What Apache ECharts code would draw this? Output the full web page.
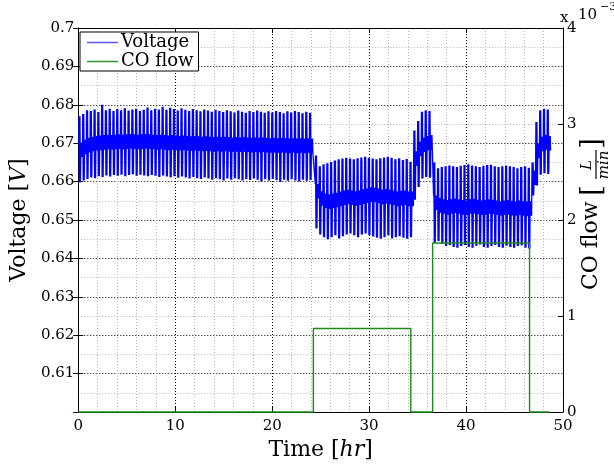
<!DOCTYPE html>
<html>
<head>
<meta charset="utf-8">
<script src="https://cdn.jsdelivr.net/npm/echarts@6/dist/echarts.min.js"></script>
<style>
  html, body { margin: 0; padding: 0; background: #ffffff; }
  #chart { width: 614px; height: 466px; }
</style>
</head>
<body>
<div id="chart"></div>
<script>
// Cell voltage: one pulse every cycleHours; each cycle has a peak, a trough
// and the level of the noisy band it oscillates around.
const cycleHours = 0.39;
const bandHalf = 0.0019;           // half thickness of the noisy band [V]
const segStart = [0.05, 24.45, 34.6, 36.65, 46.8];   // hr

// 0 - 24.3 hr, no CO
const peaksA = [
  0.6770, 0.6776, 0.6786, 0.6784, 0.6788, 0.6781, 0.6800, 0.6786, 0.6790, 0.6784,
  0.6789, 0.6786, 0.6791, 0.6785, 0.6788, 0.6790, 0.6784, 0.6787, 0.6793, 0.6786,
  0.6790, 0.6788, 0.6795, 0.6787, 0.6792, 0.6789, 0.6785, 0.6791, 0.6787, 0.6784,
  0.6789, 0.6786, 0.6783, 0.6788, 0.6785, 0.6782, 0.6787, 0.6784, 0.6781, 0.6786,
  0.6783, 0.6780, 0.6785, 0.6782, 0.6779, 0.6784, 0.6781, 0.6785, 0.6782, 0.6779,
  0.6783, 0.6780, 0.6784, 0.6781, 0.6778, 0.6783, 0.6780, 0.6784, 0.6781, 0.6778,
  0.6782, 0.6779
];
const troughsA = [
  0.6598, 0.6603, 0.6607, 0.6611, 0.6609, 0.6614, 0.6612, 0.6616, 0.6613, 0.6617,
  0.6615, 0.6618, 0.6614, 0.6617, 0.6619, 0.6615, 0.6618, 0.6616, 0.6614, 0.6617,
  0.6615, 0.6612, 0.6616, 0.6613, 0.6611, 0.6614, 0.6610, 0.6613, 0.6611, 0.6608,
  0.6612, 0.6609, 0.6607, 0.6611, 0.6608, 0.6605, 0.6609, 0.6606, 0.6603, 0.6608,
  0.6605, 0.6609, 0.6606, 0.6603, 0.6607, 0.6604, 0.6608, 0.6605, 0.6600, 0.6606,
  0.6603, 0.6607, 0.6604, 0.6599, 0.6605, 0.6602, 0.6606, 0.6603, 0.6600, 0.6605,
  0.6602, 0.6604
];
const centresA = [
  0.6683, 0.6690, 0.6695, 0.6698, 0.6700, 0.6701, 0.6702, 0.6703, 0.6702, 0.6703,
  0.6704, 0.6703, 0.6704, 0.6705, 0.6704, 0.6703, 0.6704, 0.6705, 0.6704, 0.6703,
  0.6702, 0.6703, 0.6702, 0.6701, 0.6702, 0.6701, 0.6700, 0.6701, 0.6700, 0.6699,
  0.6700, 0.6699, 0.6698, 0.6699, 0.6698, 0.6697, 0.6698, 0.6697, 0.6698, 0.6697,
  0.6696, 0.6697, 0.6696, 0.6697, 0.6696, 0.6695, 0.6696, 0.6695, 0.6696, 0.6695,
  0.6694, 0.6695, 0.6694, 0.6695, 0.6694, 0.6693, 0.6694, 0.6693, 0.6694, 0.6693,
  0.6694, 0.6693
];

// 24.3 - 34.4 hr, first CO step
const peaksB = [
  0.6668, 0.6640, 0.6645, 0.6648, 0.6651, 0.6655, 0.6658, 0.6660, 0.6662, 0.6660,
  0.6658, 0.6661, 0.6663, 0.6665, 0.6662, 0.6660, 0.6658, 0.6661, 0.6663, 0.6665,
  0.6662, 0.6658, 0.6661, 0.6656, 0.6659, 0.6652
];
const troughsB = [
  0.6478, 0.6462, 0.6455, 0.6450, 0.6455, 0.6460, 0.6452, 0.6458, 0.6462, 0.6465,
  0.6460, 0.6455, 0.6462, 0.6465, 0.6460, 0.6457, 0.6454, 0.6451, 0.6455, 0.6460,
  0.6452, 0.6455, 0.6458, 0.6454, 0.6451, 0.6455
];
const centresB = [
  0.6575, 0.6556, 0.6550, 0.6548, 0.6550, 0.6552, 0.6555, 0.6558, 0.6560, 0.6558,
  0.6556, 0.6558, 0.6561, 0.6563, 0.6566, 0.6565, 0.6563, 0.6560, 0.6562, 0.6560,
  0.6558, 0.6555, 0.6557, 0.6558, 0.6555, 0.6555
];

// 34.5 - 36.6 hr, recovery without CO
const peaksC = [0.6733, 0.6758, 0.6782, 0.6786, 0.6784];
const troughsC = [0.6553, 0.6586, 0.6608, 0.6612, 0.6610];
const centresC = [0.6660, 0.6685, 0.6696, 0.6700, 0.6702];

// 36.6 - 46.6 hr, second CO step
const peaksD = [
  0.6650, 0.6635, 0.6638, 0.6640, 0.6642, 0.6640, 0.6638, 0.6641, 0.6643, 0.6645,
  0.6642, 0.6640, 0.6638, 0.6641, 0.6643, 0.6644, 0.6640, 0.6638, 0.6640, 0.6642,
  0.6640, 0.6638, 0.6635, 0.6638, 0.6640, 0.6636
];
const troughsD = [
  0.6441, 0.6445, 0.6438, 0.6432, 0.6435, 0.6430, 0.6428, 0.6432, 0.6435, 0.6430,
  0.6428, 0.6433, 0.6436, 0.6430, 0.6428, 0.6432, 0.6435, 0.6430, 0.6428, 0.6433,
  0.6430, 0.6428, 0.6432, 0.6434, 0.6428, 0.6426
];
const centresD = [
  0.6545, 0.6538, 0.6535, 0.6533, 0.6535, 0.6537, 0.6535, 0.6533, 0.6532, 0.6535,
  0.6536, 0.6534, 0.6532, 0.6533, 0.6535, 0.6534, 0.6532, 0.6530, 0.6532, 0.6533,
  0.6531, 0.6530, 0.6532, 0.6530, 0.6529, 0.6530
];

// 46.7 - 48.7 hr, final recovery
const peaksE = [0.6650, 0.6755, 0.6786, 0.6790, 0.6788];
const troughsE = [0.6564, 0.6590, 0.6618, 0.6622, 0.6620];
const centresE = [0.6610, 0.6680, 0.6698, 0.6702, 0.6700];

// CO flow set-points [L/min], each held until the next time
const coTime = [0, 24.25, 34.3, 36.55, 46.55, 48.6];
const coFlow = [0, 0.00087, 0, 0.00176, 0, 0];

const xTicks = [0, 10, 20, 30, 40, 50];

const segPeaks = [peaksA, peaksB, peaksC, peaksD, peaksE];
const segTroughs = [troughsA, troughsB, troughsC, troughsD, troughsE];
const segCentres = [centresA, centresB, centresC, centresD, centresE];

// Each pulse is swept twice between its trough and peak, then the trace
// rattles inside the band until the next pulse.
const voltData = [];
segStart.forEach(function (t0, s) {
  const pk = segPeaks[s], tr = segTroughs[s], ce = segCentres[s];
  for (let i = 0; i < pk.length; i++) {
    const t = t0 + i * cycleHours;
    const c = ce[i];
    voltData.push(
      [t, c + bandHalf],
      [t + 0.02, pk[i]], [t + 0.07, tr[i]],
      [t + 0.12, pk[i]], [t + 0.17, tr[i]],
      [t + 0.20, c - bandHalf]
    );
    for (let k = 1; k <= 4; k++) {
      voltData.push([t + 0.20 + 0.04 * k, (k % 2) ? c + bandHalf : c - bandHalf]);
    }
  }
});
const coData = coTime.map(function (t, i) { return [t, coFlow[i]]; });

const SERIF = '"DejaVu Serif", "Liberation Serif", serif';
const majorGrid = { show: true, lineStyle: { color: '#000', width: 1, type: [1, 2] } };
const minorGrid = { show: true, lineStyle: { color: '#b4b4b4', width: 1, type: [1, 2] } };
const tickIn = { show: true, inside: true, length: 5, lineStyle: { color: '#000' } };
const blackLine = { show: true, onZero: false, lineStyle: { color: '#000', width: 1 } };

const chart = echarts.init(document.getElementById('chart'), null, { renderer: 'canvas' });
chart.setOption({
  animation: false,
  backgroundColor: '#ffffff',
  grid: { left: 75, right: 51, top: 28, bottom: 54, containLabel: false },
  legend: {
    left: 80, top: 32, orient: 'vertical',
    data: [
      { name: 'Voltage', icon: 'rect', itemStyle: { color: '#5a5aff' } },
      { name: 'CO flow', icon: 'rect', itemStyle: { color: '#2f962f' } }
    ],
    backgroundColor: '#ffffff', borderColor: '#000', borderWidth: 1, borderRadius: 0,
    padding: [1, 5, 0, 7], itemGap: 0, itemWidth: 31, itemHeight: 1.5,
    textStyle: { fontFamily: SERIF, fontSize: 18, color: '#000', lineHeight: 19, padding: [0, 0, 0, -2] }
  },
  xAxis: [{
    type: 'value', min: 0, max: 50, interval: 10, position: 'bottom',
    name: '{n|Time [}{i|hr}{n|]}', nameLocation: 'middle', nameGap: 24,
    nameTextStyle: { rich: {
      n: { fontFamily: SERIF, fontSize: 22, color: '#000' },
      i: { fontFamily: SERIF, fontSize: 22, fontStyle: 'italic', color: '#000' } } },
    axisLine: blackLine, axisTick: tickIn,
    axisLabel: { fontFamily: SERIF, fontSize: 15, color: '#000', margin: 7,
      formatter: function (v) { return xTicks.indexOf(v) >= 0 ? String(v) : ''; } },
    splitLine: majorGrid,
    minorTick: { show: false, splitNumber: 5 },
    minorSplitLine: minorGrid
  }, {
    type: 'value', min: 0, max: 50, interval: 10, position: 'top',
    axisLine: blackLine, axisTick: tickIn, axisLabel: { show: false },
    splitLine: { show: false }
  }],
  yAxis: [{
    type: 'value', min: 0.6, max: 0.7, interval: 0.01, position: 'left',
    name: '{n|Voltage [}{i|V}{n|]}', nameLocation: 'middle', nameGap: 47,
    nameTextStyle: { rich: {
      n: { fontFamily: SERIF, fontSize: 22, color: '#000' },
      i: { fontFamily: SERIF, fontSize: 22, fontStyle: 'italic', color: '#000' } } },
    axisLine: blackLine, axisTick: tickIn,
    axisLabel: { fontFamily: SERIF, fontSize: 15, color: '#000', margin: 4,
      formatter: function (v) {
        if (Math.abs(v - 0.6) < 1e-9) return '';
        return String(Math.round(v * 100) / 100);
      } },
    splitLine: majorGrid,
    minorTick: { show: false, splitNumber: 2 },
    minorSplitLine: minorGrid
  }, {
    type: 'value', min: 0, max: 0.004, interval: 0.001, position: 'right',
    axisLine: blackLine, axisTick: tickIn,
    axisLabel: { fontFamily: SERIF, fontSize: 15, color: '#000', margin: 4,
      formatter: function (v) { return String(Math.round(v * 1000)); } },
    splitLine: { show: false }
  }, {
    type: 'value', min: 0.6, max: 0.7, interval: 0.01, position: 'right',
    axisLine: { show: false }, axisTick: tickIn, axisLabel: { show: false },
    splitLine: { show: false }
  }],
  series: [{
    name: 'Voltage', type: 'line', xAxisIndex: 0, yAxisIndex: 0,
    data: voltData, symbol: 'none', showSymbol: false, sampling: false,
    lineStyle: { color: '#0000ff', width: 1.3 }, itemStyle: { color: '#0000ff' },
    z: 3
  }, {
    name: 'CO flow', type: 'line', xAxisIndex: 0, yAxisIndex: 1,
    data: coData, step: 'end', symbol: 'none', showSymbol: false, clip: false,
    lineStyle: { color: '#1a8a1a', width: 1.4 }, itemStyle: { color: '#1a8a1a' },
    z: 4
  }],
  graphic: [
    { type: 'text', left: 560, top: 11, style: { text: 'x', fontFamily: SERIF, fontSize: 15, fill: '#000' } },
    { type: 'text', left: 578, top: 8, style: { text: '10', fontFamily: SERIF, fontSize: 15, fill: '#000' } },
    { type: 'text', left: 600, top: 2, style: { text: '\u22123', fontFamily: SERIF, fontSize: 11, fill: '#000' } },
    {
      type: 'group', x: 591, y: 216, rotation: Math.PI / 2,
      children: [
        { type: 'text', x: -74, y: 0, style: { text: 'CO flow', fontFamily: SERIF, fontSize: 22, fill: '#000',
          textAlign: 'left', textVerticalAlign: 'middle' } },
        { type: 'text', x: 20, y: 2, style: { text: '[', fontFamily: SERIF, fontSize: 28, fill: '#000',
          textAlign: 'left', textVerticalAlign: 'middle' } },
        { type: 'text', x: 51, y: -4, style: { text: 'L', fontFamily: SERIF, fontSize: 15, fontStyle: 'italic',
          fill: '#000', textAlign: 'center', textVerticalAlign: 'middle' } },
        { type: 'line', shape: { x1: 37, y1: 5, x2: 66, y2: 5 }, style: { stroke: '#000', lineWidth: 1.2 } },
        { type: 'text', x: 51, y: 13, style: { text: 'min', fontFamily: SERIF, fontSize: 15, fontStyle: 'italic',
          fill: '#000', textAlign: 'center', textVerticalAlign: 'middle' } },
        { type: 'text', x: 67, y: 2, style: { text: ']', fontFamily: SERIF, fontSize: 28, fill: '#000',
          textAlign: 'left', textVerticalAlign: 'middle' } }
      ]
    }
  ]
});
</script>
</body>
</html>
